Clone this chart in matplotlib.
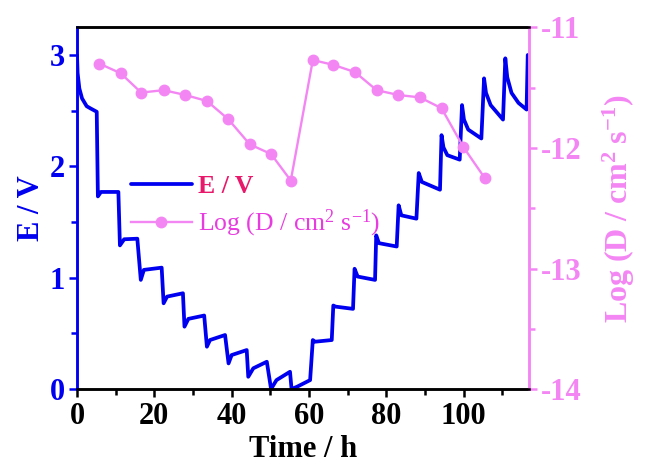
import matplotlib
matplotlib.use("Agg")
import matplotlib.pyplot as plt
from matplotlib.ticker import MultipleLocator

plt.rcParams['font.family'] = ['Liberation Serif', 'DejaVu Serif']
plt.rcParams['mathtext.fontset'] = 'custom'
plt.rcParams['mathtext.rm'] = 'Liberation Serif'
plt.rcParams['mathtext.it'] = 'Liberation Serif:italic'
plt.rcParams['mathtext.bf'] = 'Liberation Serif:bold'
plt.rcParams['axes.unicode_minus'] = False

# GITT potential profile (time in h, potential in V)
time_h = [0.0, 0.15, 0.6, 1.3, 2.5, 3.5, 5.1,
          5.4, 6.2, 10.7,
          11.1, 12.2, 15.6,
          16.5, 17.3, 21.9,
          22.4, 23.3, 27.4,
          27.8, 28.8, 32.9,
          33.6, 34.4, 38.3,
          39.2, 40.0, 43.9,
          44.3, 45.6, 49.1,
          50.2, 51.6, 55.1,
          55.5, 56.9, 60.3,
          61.0, 61.6, 65.9,
          66.3, 66.9, 71.4,
          71.8, 72.6, 77.1,
          77.4, 78.1, 82.7,
          83.2, 83.9, 87.8,
          88.4, 89.2, 93.9,
          94.3, 94.8, 95.8, 99.0,
          99.6, 100.1, 101.2, 104.6,
          105.3, 105.8, 107.0, 110.2,
          110.8, 111.3, 112.4, 114.2, 116.3,
          116.6]
potential_v = [3.00, 2.84, 2.70, 2.61, 2.54, 2.52, 2.49,
               1.73, 1.77, 1.77,
               1.29, 1.345, 1.35,
               0.98, 1.07, 1.09,
               0.77, 0.83, 0.86,
               0.56, 0.63, 0.66,
               0.38, 0.44, 0.485,
               0.23, 0.305, 0.35,
               0.11, 0.186, 0.245,
               0.00, 0.08, 0.155,
               0.00, 0.02, 0.08,
               0.44, 0.425, 0.44,
               0.75, 0.74, 0.72,
               1.08, 1.01, 0.98,
               1.38, 1.31, 1.28,
               1.65, 1.56, 1.53,
               1.94, 1.86, 1.79,
               2.28, 2.17, 2.10, 2.06,
               2.55, 2.42, 2.33, 2.25,
               2.79, 2.66, 2.55, 2.42,
               2.97, 2.80, 2.66, 2.57, 2.51,
               3.00]

# Diffusion coefficients from each titration step
d_time_h = [5.8, 11.3, 16.6, 22.4, 28.0, 33.6, 39.1, 44.7, 50.2, 55.3,
            61.0, 66.3, 71.9, 77.5, 83.1, 88.7, 94.3, 99.9, 105.5]
log_d = [-11.30, -11.38, -11.54, -11.52, -11.56, -11.61, -11.76, -11.97, -12.05, -12.27,
         -11.27, -11.31, -11.37, -11.52, -11.56, -11.58, -11.67, -11.99, -12.25]

BLUE = '#0000F0'
PINK = '#F486F4'
LEG_RED = '#E8186A'
LEG_MAG = '#E83CE0'

fig = plt.figure(figsize=(6.45, 4.66), dpi=100)
ax = fig.add_axes([0.1194, 0.1652, 0.7000, 0.7758])
ax2 = ax.twinx()

l1, = ax.plot(time_h, potential_v, color=BLUE, lw=2.7, solid_joinstyle='round',
              solid_capstyle='round', label='E / V')
l2, = ax2.plot(d_time_h, log_d, color=PINK, lw=1.7, marker='o', ms=7.5,
               mfc=PINK, mec=PINK, label='Log (D / cm$^2$ s$^{-1}$)')

ax.set_xlim(0, 116.8)
ax.set_ylim(0, 3.247)
ax2.set_ylim(-14, -11)

ax.xaxis.set_major_locator(MultipleLocator(20))
ax.xaxis.set_minor_locator(MultipleLocator(10))
ax.yaxis.set_major_locator(MultipleLocator(1))
ax.yaxis.set_minor_locator(MultipleLocator(0.5))
ax2.yaxis.set_major_locator(MultipleLocator(1))
ax2.yaxis.set_minor_locator(MultipleLocator(0.5))

for a in (ax, ax2):
    for s in a.spines.values():
        s.set_linewidth(1.8)
ax2.spines['left'].set_color(BLUE)
ax2.spines['right'].set_color(PINK)
ax2.spines['top'].set_color('black')
ax2.spines['bottom'].set_color('black')
ax.spines['left'].set_color(BLUE)
ax.spines['right'].set_color(PINK)

ax.tick_params(axis='x', which='major', direction='out', length=6, width=1.8,
               labelsize=22, colors='black', pad=3)
ax.tick_params(axis='x', which='minor', direction='out', length=4, width=1.8)
ax.tick_params(axis='y', which='major', direction='out', length=6, width=1.8,
               labelsize=22, colors=BLUE, pad=3)
ax.tick_params(axis='y', which='minor', direction='out', length=4, width=1.8, colors=BLUE)
ax2.tick_params(axis='y', which='major', direction='out', length=6, width=1.8,
                labelsize=22, colors=PINK, pad=3)
ax2.tick_params(axis='y', which='minor', direction='out', length=4, width=1.8, colors=PINK)

for lab in ax.get_xticklabels() + ax.get_yticklabels() + ax2.get_yticklabels():
    lab.set_fontweight('bold')

ax.set_xlabel('Time / h', fontsize=22, fontweight='bold', labelpad=3)
ax.set_ylabel('E / V', fontsize=22, fontweight='bold', color=BLUE, labelpad=2)
ax2.set_ylabel(r'$\mathbf{Log\ (D\ /\ cm^{2}\ s^{-1})}$', fontsize=23,
               color=PINK, labelpad=14)

leg = ax2.legend(handles=[l1, l2], loc='upper left',
                 bbox_to_anchor=(0.12, 0.593), frameon=False, fontsize=18.5,
                 handlelength=2.35, handletextpad=0.25, labelspacing=0.4,
                 borderpad=0, borderaxespad=0)
texts = leg.get_texts()
texts[0].set_color(LEG_RED)
texts[0].set_fontweight('bold')
texts[1].set_color(LEG_MAG)

fig.savefig('out.png', dpi=100)
